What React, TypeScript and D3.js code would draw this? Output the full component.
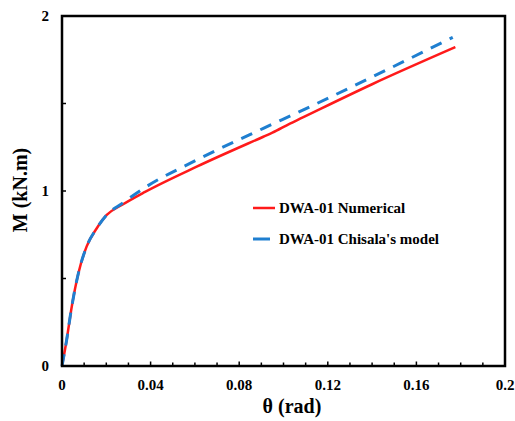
import React from "react";
import * as d3 from "d3";

const numTheta = [0, 0.0021, 0.0044, 0.0074, 0.0111, 0.0157, 0.0202, 0.027, 0.0375, 0.0608, 0.0909, 0.095, 0.1029, 0.1075, 0.14, 0.1776];
const numM = [0, 0.149, 0.339, 0.53, 0.682, 0.787, 0.863, 0.92, 0.995, 1.139, 1.31, 1.333, 1.385, 1.413, 1.61, 1.822];
const chiTheta = [0, 0.0021, 0.0044, 0.0074, 0.0111, 0.0157, 0.0202, 0.027, 0.0375, 0.0608, 0.0909, 0.1075, 0.1764];
const chiM = [0, 0.149, 0.339, 0.53, 0.682, 0.787, 0.864, 0.928, 1.02, 1.177, 1.358, 1.455, 1.878];
const xTickLabels = ["0", "0.04", "0.08", "0.12", "0.16", "0.2"];
const yTickLabels = ["0", "1", "2"];
const seriesNames = ["DWA-01 Numerical", "DWA-01 Chisala's model"];

export default function App() {
  const W = 515, H = 421;
  const x = d3.scaleLinear().domain([0, 0.2]).range([62, 505]);
  const y = d3.scaleLinear().domain([0, 2]).range([366, 16]);
  const line = d3.line<[number, number]>().x(d => x(d[0])).y(d => y(d[1])).curve(d3.curveMonotoneX);
  const red = numTheta.map((t, i) => [t, numM[i]] as [number, number]);
  const blue = chiTheta.map((t, i) => [t, chiM[i]] as [number, number]);
  const font = '"Liberation Serif", "Times New Roman", Times, serif';
  const xMinor = d3.range(1, 20).map(i => i * 0.01);
  const yMinor = [0.5, 1, 1.5];
  const ts = { fontFamily: font, fontWeight: 700 } as React.CSSProperties;
  return (
    <svg width={W} height={H} style={{ position: "absolute", left: 0, top: 0, background: "#fff" }}>
      <path d={line(red) || ""} fill="none" stroke="#ff1a1a" strokeWidth={2.5} />
      <path d={line(blue) || ""} fill="none" stroke="#1f7fd0" strokeWidth={3} strokeDasharray="12,9" />
      <rect x={x(0)} y={y(2)} width={x(0.2) - x(0)} height={y(0) - y(2)} fill="none" stroke="#000" strokeWidth={2.5} />
      {xMinor.map((t, i) => (
        <line key={"xt" + i} x1={x(t)} x2={x(t)} y1={y(0)} y2={y(0) - ((i + 1) % 4 === 0 ? 4.5 : 3.5)} stroke="#000" strokeWidth={1.5} />
      ))}
      {yMinor.map((v, i) => (
        <line key={"yt" + i} x1={x(0)} x2={x(0) + 4} y1={y(v)} y2={y(v)} stroke="#000" strokeWidth={1.5} />
      ))}
      {xTickLabels.map((s, i) => (
        <text key={"xl" + i} x={x(i * 0.04)} y={390} textAnchor="middle" fontSize={15} style={ts}>{s}</text>
      ))}
      {yTickLabels.map((s, i) => (
        <text key={"yl" + i} x={49} y={y(i) + 5} textAnchor="end" fontSize={15} style={ts}>{s}</text>
      ))}
      <text x={292} y={413} textAnchor="middle" fontSize={20} style={ts}>θ (rad)</text>
      <text transform={`translate(27,${y(1) - 1}) rotate(-90)`} textAnchor="middle" fontSize={20} style={ts}>M (kN.m)</text>
      <line x1={253} x2={275} y1={208} y2={208} stroke="#ff1a1a" strokeWidth={2.5} />
      <text x={279} y={213} fontSize={15} style={ts}>{seriesNames[0]}</text>
      <line x1={253} x2={270} y1={239} y2={239} stroke="#1f7fd0" strokeWidth={3} />
      <text x={279} y={244} fontSize={15} style={ts}>{seriesNames[1]}</text>
    </svg>
  );
}
